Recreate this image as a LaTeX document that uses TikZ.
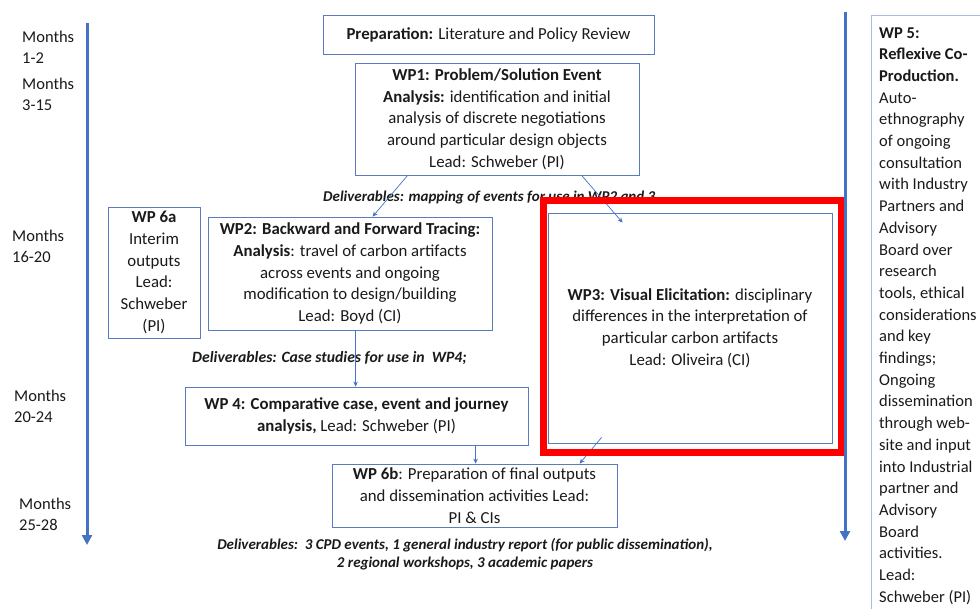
\documentclass[tikz,border=0pt]{standalone}
\usepackage{fontspec}
\setmainfont{Carlito}
\usetikzlibrary{arrows.meta}
\definecolor{bl}{HTML}{4472C4}
\definecolor{bx}{HTML}{5B7BBE}
\definecolor{lb}{HTML}{A8BDE3}
\definecolor{tx}{HTML}{1A1A1A}
\begin{document}
\begin{tikzpicture}[x=1pt,y=-1pt,
  every node/.style={text=tx},
  box/.style={draw=bx, line width=0.8pt, inner sep=0pt, align=center, font=\fontsize{16.8}{21.7}\selectfont},
  lbl/.style={inner sep=0pt, align=left, font=\fontsize{16.5}{21.7}\selectfont},
  dlv/.style={inner sep=0pt, align=center, font=\fontsize{15}{18}\selectfont\bfseries\itshape},
  link/.style={draw=bl, line width=0.7pt, -{Stealth[length=5pt,width=4.5pt]}},
  timeline/.style={draw=bl, line width=3pt, -{Triangle[length=10pt,width=10pt]}}]
\useasboundingbox (0,0) rectangle (980,608);
\fill[white] (0,0) rectangle (980,608);

% month labels (anchor = baseline of last line)
\node[lbl, anchor=base west] (m1) at (22,63.7) {Months\\1-2};
\node[lbl, anchor=base west] (m2) at (22,110.7) {Months\\3-15};
\node[lbl, anchor=base west] (m3) at (12,262.7) {Months\\16-20};
\node[lbl, anchor=base west] (m4) at (14,422.7) {Months\\20-24};
\node[lbl, anchor=base west] (m5) at (19,530.7) {Months\\25-28};

% boxes
\node[box, minimum width=331, minimum height=39] (prep) at (488.5,34.5) {\textbf{Preparation:} Literature and Policy Review};
\node[box, minimum width=284, minimum height=112] (wp1) at (497,119) {\textbf{WP1: Problem/Solution Event}\\\textbf{Analysis:} identification and initial\\analysis of discrete negotiations\\around particular design objects\\Lead: Schweber (PI)};
\node[box, minimum width=92, minimum height=131] (wp6a) at (154,272.5) {\textbf{WP 6a}\\Interim\\outputs\\Lead:\\Schweber\\(PI)};
\node[box, minimum width=284, minimum height=113] (wp2) at (350,273.5) {\textbf{WP2: Backward and Forward Tracing:}\\\textbf{Analysis}: travel of carbon artifacts\\across events and ongoing\\modification to design/building\\Lead: Boyd (CI)};
\node[box, minimum width=284, minimum height=230] (wp3) at (690,328) {\textbf{WP3: Visual Elicitation:} disciplinary\\differences in the interpretation of\\particular carbon artifacts\\Lead: Oliveira (CI)};
\node[box, minimum width=343, minimum height=58] (wp4) at (356.5,416) {\textbf{WP 4: Comparative case, event and journey}\\\textbf{analysis,} Lead: Schweber (PI)};
\node[box, minimum width=285, minimum height=63] (wp6b) at (474.5,495.5) {\textbf{WP 6b}: Preparation of final outputs\\and dissemination activities Lead:\\PI \& CIs};

% deliverables
\node[dlv, anchor=base west] (d1) at (323,201) {Deliverables: mapping of events for use in WP2 and 3};
\node[dlv, anchor=base west, font=\fontsize{15.7}{18}\selectfont\bfseries\itshape] (d2) at (192,362) {Deliverables: Case studies for use in\ \ WP4;};
\node[dlv, anchor=base] (d3) at (465,567) {Deliverables:\ \ 3 CPD events, 1 general industry report (for public dissemination),\\2 regional workshops, 3 academic papers};

% connectors
\draw[link] ([xshift=53pt]wp1.south west) -- ([xshift=165pt]wp2.north west);
\draw[link] ([xshift=227pt]wp1.south west) -- ([xshift=75pt,yshift=-10pt]wp3.north west);
\draw[link] ([xshift=148pt]wp2.south west) -- ([xshift=148pt]wp4.north west -| wp2.south west);
\draw[link] ([xshift=291pt]wp4.south west) -- ([xshift=144pt]wp6b.north west);
\draw[link] ([xshift=54pt,yshift=6pt]wp3.south west) -- ([xshift=248pt]wp6b.north west);

% WP5 column
\draw[lb, line width=0.8pt] (990,15) -- (871,15) -- (871,620);
\node[lbl, anchor=base west] (wp5) at (879,602.2) {\textbf{WP 5:}\\\textbf{Reflexive Co-}\\\textbf{Production.}\\Auto-\\ethnography\\of ongoing\\consultation\\with Industry\\Partners and\\Advisory\\Board over\\research\\tools, ethical\\considerations\\and key\\findings;\\Ongoing\\dissemination\\through web-\\site and input\\into Industrial\\partner and\\Advisory\\Board\\activities.\\Lead:\\Schweber (PI)};

% highlight
\node[draw=red, line width=7pt, inner sep=0pt, minimum width=298, minimum height=252] (hl) at (692,326) {};

% timelines
\coordinate (tla) at (87,23);
\coordinate (tlb) at (87,545);
\coordinate (tra) at (845,12);
\coordinate (trb) at (845,541);
\draw[timeline] (tla) -- (tlb);
\draw[timeline] (tra) -- (trb);
\end{tikzpicture}
\end{document}
